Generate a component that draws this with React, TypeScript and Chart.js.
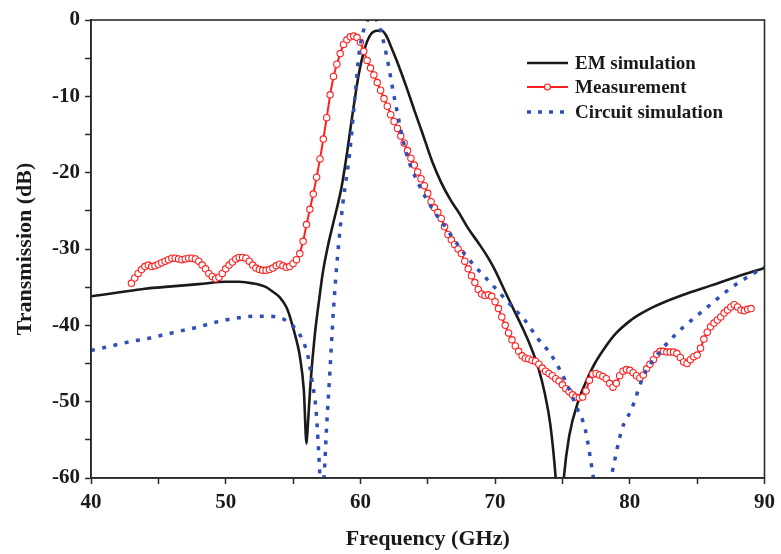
import React, { useEffect, useRef } from "react";
import { Chart, registerables } from "chart.js";

Chart.register(...registerables);

// ---------------- data ----------------
const xTicks = [40, 45, 50, 55, 60, 65, 70, 75, 80, 85, 90];
const yTicks = [0, -5, -10, -15, -20, -25, -30, -35, -40, -45, -50, -55, -60];

const seriesNames = ["EM simulation", "Measurement", "Circuit simulation"];

const emFreq = [
  40, 42, 44, 46, 48, 50, 51, 52, 53, 53.5, 54, 54.5, 54.7, 55, 55.3, 55.5, 55.8, 56.0,
  56.1, 56.3, 56.6, 57.0, 57.2, 57.6, 58.0, 58.6, 59.0, 59.4, 59.7, 59.9, 60.2, 60.5, 60.8,
  61.2, 61.6, 61.9, 62.3, 62.8, 63.4, 64.0, 64.6, 65.3, 66.0, 66.7, 67.3, 68.0, 68.8, 69.5,
  70.0, 70.8, 71.4, 72.0, 72.6, 73.2, 73.7, 74.1, 74.5, 74.8, 75.1, 75.5, 76.2, 76.8, 77.4,
  78.2, 79.0, 80.1, 80.6, 81.5, 82.5, 84.3, 86, 88, 90,
];
const emVal = [
  -36.2, -35.7, -35.2, -34.9, -34.6, -34.3, -34.3, -34.5, -35.0, -35.6, -36.3, -37.6, -38.5,
  -40.3, -42.3, -44.0, -48.5, -55.5, -53.0, -47.5, -41.5, -35.8, -33.2, -29.5, -26.5, -21.9,
  -17.5, -12.5, -9.0, -6.9, -4.5, -2.8, -1.8, -1.4, -1.4, -2.0, -3.6, -5.8, -8.7, -11.8,
  -14.8, -18.4, -21.3, -23.6, -25.2, -27.3, -29.3, -31.2, -32.8, -35.8, -38.0, -40.2, -42.6,
  -45.5, -49.0, -53.0, -60.0, -68.0, -60.0, -54.5, -49.8, -47.2, -45.0, -42.8, -41.0, -39.3,
  -38.7, -37.8, -37.0, -35.8, -34.8, -33.6, -32.5,
];

const circFreq = [
  40, 41, 42, 43, 44, 45, 46, 47, 48, 49, 50, 51, 52, 53, 53.8, 54.3, 54.7, 55.2, 55.7, 56.1,
  56.4, 56.7, 57.0, 57.1, 57.3, 57.5, 57.7, 58.0, 58.3, 58.7, 59.2, 59.6, 59.9, 60.3, 60.9,
  61.4, 61.9, 62.6, 63.4, 64.3, 65.4, 66.3, 67.8, 70.0, 71.5, 72.2, 73.2, 74.1, 75.2, 76.0,
  76.7, 77.3, 77.8, 78.6, 79.4, 80.1, 81.1, 82.0, 83.0, 84.0, 85.5, 87.0, 88.0, 89.0, 90,
];
const circVal = [
  -43.3, -42.9, -42.5, -42.1, -41.8, -41.4, -41.0, -40.6, -40.2, -39.7, -39.3, -39.0, -38.8,
  -38.8, -38.9, -39.2, -39.6, -40.5, -41.9, -44.0, -47.2, -51.0, -60.0, -64.0, -60.0, -53.0,
  -47.2, -38.0, -31.0, -24.0, -17.5, -10.0, -4.4, -1.0, 0.5, -0.8, -4.3, -10.9, -17.4, -21.4,
  -24.9, -27.1, -30.8, -35.1, -38.0, -39.3, -41.8, -43.7, -47.2, -50.5, -53.7, -60.0, -66.0,
  -60.0, -53.7, -51.1, -46.3, -44.0, -41.9, -40.2, -38.0, -35.8, -34.5, -33.4, -32.4,
];

// measurement sweep: 43 GHz to 89 GHz, 0.25 GHz step
const measStart = 43;
const measStep = 0.25;
const measVal = [
  -34.5, -33.8, -33.2, -32.7, -32.3, -32.1, -32.3, -32.2, -32.0, -31.8, -31.6, -31.4,
  -31.2, -31.2, -31.3, -31.4, -31.3, -31.2, -31.2, -31.3, -31.6, -32.1, -32.6, -33.2,
  -33.6, -33.9, -33.7, -33.2, -32.6, -32.1, -31.7, -31.3, -31.1, -31.1, -31.2, -31.6,
  -32.1, -32.5, -32.7, -32.8, -32.8, -32.7, -32.5, -32.2, -32.0, -32.2, -32.4, -32.3,
  -31.9, -31.4, -30.6, -29.0, -26.8, -24.8, -22.8, -20.6, -18.2, -15.6, -12.8, -9.8,
  -7.4, -5.8, -4.4, -3.2, -2.6, -2.2, -2.1, -2.3, -2.9, -4.1, -5.3, -6.3,
  -7.2, -8.2, -9.2, -10.3, -11.3, -12.4, -13.3, -14.2, -15.2, -16.1, -17.1, -18.1,
  -19.0, -19.9, -20.8, -21.7, -22.7, -23.8, -24.6, -25.2, -26.0, -27.1, -28.1, -28.8,
  -29.4, -30.0, -30.6, -31.6, -32.6, -33.5, -34.4, -35.3, -35.9, -36.1, -36.0, -36.2,
  -36.9, -37.8, -38.9, -40.0, -41.0, -41.9, -42.7, -43.4, -44.0, -44.3, -44.4, -44.6,
  -44.7, -45.1, -45.6, -46.0, -46.3, -46.6, -47.0, -47.3, -47.8, -48.3, -48.7, -49.1,
  -49.4, -49.5, -49.4, -48.6, -47.2, -46.4, -46.3, -46.5, -46.7, -47.0, -47.6, -48.1,
  -47.6, -46.6, -46.0, -45.8, -45.9, -46.2, -46.6, -46.9, -46.5, -45.7, -45.1, -44.5,
  -43.8, -43.4, -43.4, -43.5, -43.5, -43.5, -43.7, -44.2, -44.8, -45.0, -44.5, -44.1,
  -43.9, -43.0, -41.8, -40.9, -40.2, -39.7, -39.3, -38.9, -38.4, -38.0, -37.6, -37.3,
  -37.6, -38.0, -38.1, -37.9, -37.8,
];

// ---------------- styles ----------------
const FONT = '"Liberation Serif", "Times New Roman", Times, serif';
const EM_COLOR = "#1a1a1a";
const MEAS_COLOR = "#ff1f1f";
const CIRC_COLOR = "#2f4fb6";
const AXIS_COLOR = "#2a2a2a";

const toPts = (xs: number[], ys: number[]) => xs.map((x, i) => ({ x, y: ys[i] }));

export default function App() {
  const ref = useRef<HTMLCanvasElement | null>(null);

  useEffect(() => {
    document.body.style.margin = "0";
    const canvas = ref.current;
    if (!canvas) return;

    const measPts = measVal.map((y, i) => ({ x: measStart + i * measStep, y }));

    const frame = {
      id: "frame",
      afterDatasetsDraw(chart: any) {
        const { ctx, chartArea } = chart;
        ctx.save();
        ctx.strokeStyle = AXIS_COLOR;
        ctx.lineWidth = 1.6;
        ctx.strokeRect(chartArea.left, chartArea.top, chartArea.right - chartArea.left, chartArea.bottom - chartArea.top);
        ctx.restore();
      },
      afterDraw(chart: any) {
        const { ctx } = chart;
        ctx.save();
        const x0 = 527, x1 = 568, tx = 575;
        const rows = [63, 87, 112];
        ctx.font = `bold 19px ${FONT}`;
        ctx.textBaseline = "middle";
        ctx.textAlign = "left";
        // EM
        ctx.strokeStyle = EM_COLOR;
        ctx.lineWidth = 2.5;
        ctx.beginPath(); ctx.moveTo(x0, rows[0]); ctx.lineTo(x1, rows[0]); ctx.stroke();
        // Meas
        ctx.strokeStyle = MEAS_COLOR;
        ctx.lineWidth = 2.2;
        ctx.beginPath(); ctx.moveTo(x0, rows[1]); ctx.lineTo(x1, rows[1]); ctx.stroke();
        ctx.fillStyle = "#fff";
        ctx.lineWidth = 1.2;
        ctx.beginPath(); ctx.arc((x0 + x1) / 2, rows[1], 3, 0, Math.PI * 2); ctx.fill(); ctx.stroke();
        // Circuit
        ctx.strokeStyle = CIRC_COLOR;
        ctx.lineWidth = 3.5;
        ctx.setLineDash([4, 7]);
        ctx.beginPath(); ctx.moveTo(x0, rows[2]); ctx.lineTo(x1, rows[2]); ctx.stroke();
        ctx.setLineDash([]);
        ctx.fillStyle = "#1a1a1a";
        seriesNames.forEach((n, i) => ctx.fillText(n, tx, rows[i] + 1));
        ctx.restore();
      },
    };

    const chart = new Chart(canvas, {
      type: "line",
      data: {
        datasets: [
          {
            label: seriesNames[0],
            data: toPts(emFreq, emVal),
            borderColor: EM_COLOR,
            borderWidth: 2.6,
            pointRadius: 0,
            cubicInterpolationMode: "monotone",
            order: 2,
          },
          {
            label: seriesNames[1],
            data: measPts,
            borderColor: MEAS_COLOR,
            borderWidth: 2,
            pointRadius: 3.2,
            pointBorderWidth: 1.1,
            pointBackgroundColor: "#ffffff",
            pointBorderColor: MEAS_COLOR,
            tension: 0,
            order: 1,
          },
          {
            label: seriesNames[2],
            data: toPts(circFreq, circVal),
            borderColor: CIRC_COLOR,
            borderWidth: 3.5,
            borderDash: [4, 7.5],
            pointRadius: 0,
            cubicInterpolationMode: "monotone",
            order: 0,
          },
        ] as any,
      },
      options: {
        animation: false,
        responsive: false,
        maintainAspectRatio: false,
        layout: { padding: { left: 0, right: 13, top: 20, bottom: 0 } },
        plugins: {
          legend: { display: false },
          tooltip: { enabled: false },
        },
        scales: {
          x: {
            type: "linear",
            min: 40,
            max: 90,
            afterFit: (s: any) => { s.height = 76; },
            afterBuildTicks: (s: any) => { s.ticks = xTicks.map((v) => ({ value: v })); },
            grid: { drawOnChartArea: false, drawTicks: true, tickLength: 6, tickColor: AXIS_COLOR, tickWidth: 1.5 },
            border: { display: true, color: AXIS_COLOR, width: 1.6 },
            ticks: {
              autoSkip: false,
              padding: 6,
              color: "#1a1a1a",
              font: { family: FONT, size: 21, weight: "bold" },
              callback: (v: any) => (Number(v) % 10 === 0 ? String(v) : ""),
            },
            title: {
              display: true,
              text: "Frequency (GHz)",
              color: "#1a1a1a",
              font: { family: FONT, size: 22, weight: "bold" },
              padding: { top: 0, bottom: 1 },
            },
          },
          y: {
            type: "linear",
            min: -60,
            max: 0,
            afterFit: (s: any) => { s.width = 91; },
            afterBuildTicks: (s: any) => { s.ticks = yTicks.map((v) => ({ value: v })); },
            grid: { drawOnChartArea: false, drawTicks: true, tickLength: 6, tickColor: AXIS_COLOR, tickWidth: 1.5 },
            border: { display: true, color: AXIS_COLOR, width: 1.6 },
            ticks: {
              autoSkip: false,
              padding: 5,
              color: "#1a1a1a",
              font: { family: FONT, size: 21, weight: "bold" },
              callback: (v: any) => (Number(v) % 10 === 0 ? String(v) : ""),
            },
            title: {
              display: true,
              text: "Transmission (dB)",
              color: "#1a1a1a",
              font: { family: FONT, size: 22, weight: "bold" },
              padding: { top: 12, bottom: 0 },
            },
          },
        },
      },
      plugins: [frame],
    });

    return () => chart.destroy();
  }, []);

  return (
    <div style={{ width: 781, height: 554 }}>
      <canvas ref={ref} width={781} height={554} style={{ width: 781, height: 554, display: "block" }} />
    </div>
  );
}
